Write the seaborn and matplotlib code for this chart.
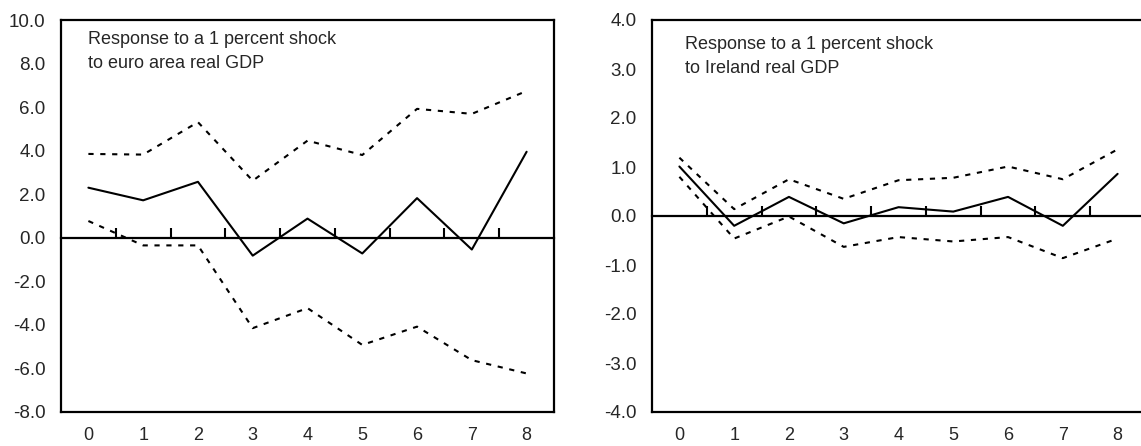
import numpy as np
import pandas as pd
import matplotlib
matplotlib.use('Agg')
import matplotlib.pyplot as plt
import seaborn as sns

# Impulse responses, horizon 0-8
horizon = [0, 1, 2, 3, 4, 5, 6, 7, 8]

ea_response = [2.30, 1.72, 2.57, -0.82, 0.88, -0.72, 1.82, -0.54, 3.95]
ea_upper = [3.85, 3.82, 5.31, 2.62, 4.46, 3.80, 5.92, 5.69, 6.74]
ea_lower = [0.77, -0.35, -0.35, -4.15, -3.23, -4.92, -4.08, -5.62, -6.23]

ie_response = [1.01, -0.20, 0.39, -0.15, 0.18, 0.09, 0.39, -0.20, 0.86]
ie_upper = [1.19, 0.14, 0.75, 0.35, 0.73, 0.78, 1.01, 0.75, 1.36]
ie_lower = [0.80, -0.46, -0.01, -0.63, -0.43, -0.52, -0.43, -0.86, -0.46]

ea_title = "Response to a 1 percent shock\nto euro area real GDP"
ie_title = "Response to a 1 percent shock\nto Ireland real GDP"

sns.set_style('white')
plt.rcParams['font.family'] = ['Liberation Sans', 'DejaVu Sans']

fig = plt.figure(figsize=(11.41, 4.46), dpi=100)
W, H = 1141, 446
ax1 = fig.add_axes([61 / W, 34 / H, 493 / W, 392 / H])
ax2 = fig.add_axes([652 / W, 34 / H, 493 / W, 392 / H])

dash = (0, (2.5, 3.2))


def draw_panel(ax, resp, upper, lower, ylim, yticks, label, tx, ty):
    df = pd.DataFrame({'h': horizon, 'resp': resp, 'upper': upper, 'lower': lower})
    sns.lineplot(data=df, x='h', y='upper', ax=ax, color='black', lw=1.5, linestyle=dash)
    sns.lineplot(data=df, x='h', y='lower', ax=ax, color='black', lw=1.5, linestyle=dash)
    sns.lineplot(data=df, x='h', y='resp', ax=ax, color='black', lw=1.5)

    ax.set_xlim(-0.5, 8.5)
    ax.set_ylim(*ylim)
    ax.set_xticks(horizon)
    ax.set_yticks(yticks)
    ax.set_yticklabels([f'{v:.1f}' for v in yticks])
    ax.set_xlabel('')
    ax.set_ylabel('')
    ax.tick_params(axis='x', length=0, pad=11, labelsize=13)
    ax.tick_params(axis='y', direction='in', length=5, width=1.3, pad=11, labelsize=13.5)
    for s in ax.spines.values():
        s.set_linewidth(1.6)
        s.set_color('black')

    # zero line with small ticks between the horizons
    zero = ax.secondary_xaxis(0, transform=ax.transData)
    zero.set_xticks(np.arange(0.5, 8, 1))
    zero.tick_params(direction='in', length=7, width=1.5, labelbottom=False, color='black')
    zero.spines['bottom'].set_linewidth(1.6)
    zero.spines['bottom'].set_color('black')

    ax.text(tx, ty, label, transform=ax.transAxes, ha='left', va='top',
            fontsize=13, linespacing=1.55)


draw_panel(ax1, ea_response, ea_upper, ea_lower, (-8, 10),
           [-8, -6, -4, -2, 0, 2, 4, 6, 8, 10], ea_title, 0.055, 0.973)
draw_panel(ax2, ie_response, ie_upper, ie_lower, (-4, 4),
           [-4, -3, -2, -1, 0, 1, 2, 3, 4], ie_title, 0.067, 0.96)

plt.savefig('out.png', dpi=100)
